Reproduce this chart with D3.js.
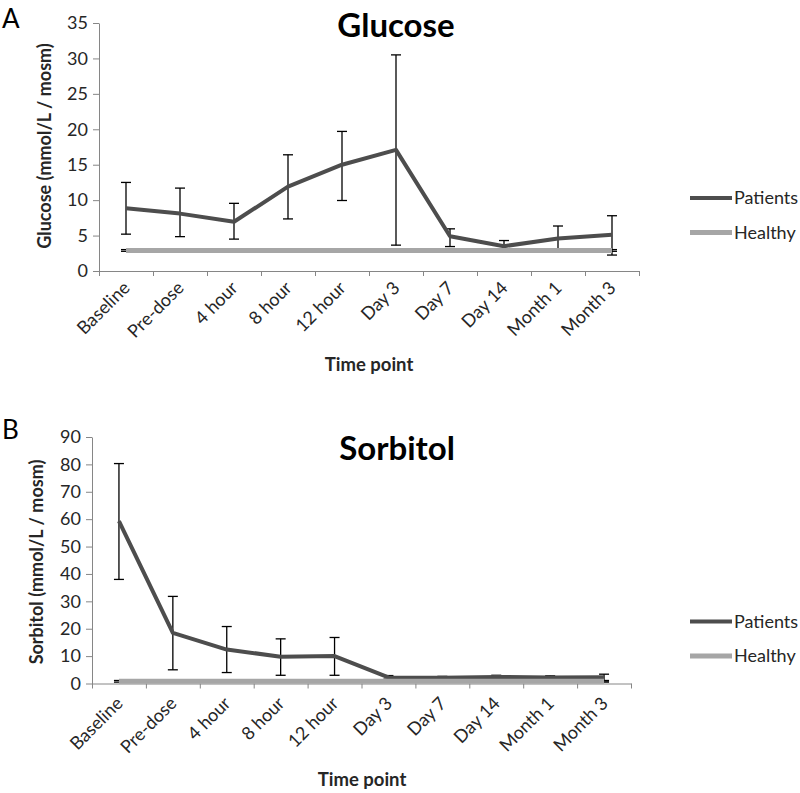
<!DOCTYPE html>
<html>
<head>
<meta charset="utf-8">
<script src="https://cdn.jsdelivr.net/npm/d3@7"></script>
<style>
  html, body { margin: 0; padding: 0; background: #fff; }
  svg { display: block; }
  text { font-family: Lato, "Open Sans", sans-serif; }
</style>
</head>
<body>
<svg id="chart" width="800" height="793"></svg>
<script>
// ---------- DATA ----------
const timePoints = ["Baseline", "Pre-dose", "4 hour", "8 hour", "12 hour", "Day 3", "Day 7", "Day 14", "Month 1", "Month 3"];
const seriesNames = ["Patients", "Healthy"];

const glucoseTicks = [0, 5, 10, 15, 20, 25, 30, 35];
const glucosePatients = [8.85, 8.1, 6.95, 11.9, 15.0, 17.1, 4.9, 3.5, 4.6, 5.1];
const glucosePatientsUpper = [12.5, 11.7, 9.55, 16.4, 19.7, 30.5, 5.95, 4.3, 6.35, 7.8];
const glucosePatientsLower = [5.2, 4.85, 4.5, 7.35, 9.95, 3.65, 3.45, 2.8, 2.9, 2.25];
const glucoseHealthy = [2.9, 2.9, 2.9, 2.9, 2.9, 2.9, 2.9, 2.9, 2.9, 2.9];
const glucoseHealthyErr = [0.12, 0.12, 0.12, 0.12, 0.12, 0.12, 0.12, 0.12, 0.12, 0.12];

const sorbitolTicks = [0, 10, 20, 30, 40, 50, 60, 70, 80, 90];
const sorbitolPatients = [59.3, 18.5, 12.4, 9.8, 10.0, 2.2, 2.1, 2.4, 2.2, 2.3];
const sorbitolPatientsUpper = [80.3, 31.8, 20.8, 16.3, 16.8, 2.9, 2.6, 3.0, 2.8, 3.4];
const sorbitolPatientsLower = [38.0, 5.0, 4.0, 3.0, 3.0, 1.6, 1.6, 1.8, 1.6, 0.9];
const sorbitolHealthy = [0.8, 0.8, 0.8, 0.8, 0.8, 0.8, 0.8, 0.8, 0.8, 0.8];
const sorbitolHealthyErr = [0.3, 0.3, 0.3, 0.3, 0.3, 0.3, 0.3, 0.3, 0.3, 0.3];

// ---------- DRAW ----------
const svg = d3.select("#chart");
const patientColor = "#4d4d4d";
const healthyColor = "#a6a6a6";
const axisColor = "#868686";
const textColor = "#262626";

function panel(cfg) {
  const g = svg.append("g");
  const x = d3.scaleBand().domain(timePoints).range([cfg.x0, cfg.x1]).padding(0);
  const xb = d3.scaleLinear().domain([0, timePoints.length]).range([cfg.x0, cfg.x1]);
  const y = d3.scaleLinear().domain([0, cfg.yMax]).range([cfg.y0, cfg.y1]);
  const cx = d => x(d) + x.bandwidth() / 2;

  // y axis
  const ya = g.append("g").attr("transform", `translate(${cfg.x0},0)`)
    .call(d3.axisLeft(y).tickValues(cfg.ticks).tickSize(6).tickSizeOuter(0).tickPadding(5));
  ya.select(".domain").attr("stroke", axisColor);
  ya.selectAll(".tick line").attr("stroke", axisColor);
  ya.selectAll(".tick text").attr("font-size", 18).attr("fill", textColor).attr("font-family", "Lato");

  // x axis line + boundary ticks
  const xa = g.append("g").attr("transform", `translate(0,${cfg.y0})`)
    .call(d3.axisBottom(xb).tickValues(d3.range(0, timePoints.length + 1)).tickSize(5).tickSizeOuter(0).tickFormat(""));
  xa.select(".domain").attr("stroke", axisColor);
  xa.selectAll(".tick line").attr("stroke", axisColor);

  // x labels (rotated)
  const xl = g.append("g").attr("transform", `translate(0,${cfg.y0})`)
    .call(d3.axisBottom(x).tickSize(0).tickPadding(0));
  xl.select(".domain").remove();
  xl.selectAll(".tick text")
    .attr("font-size", 18).attr("fill", textColor).attr("font-family", "Lato")
    .attr("text-anchor", "end").attr("dy", 0).attr("y", 0)
    .attr("transform", `translate(${cfg.lblDx},${cfg.lblDy}) rotate(-45)`);

  // Patients error bars
  const eb = g.append("g").attr("stroke", "#000").attr("stroke-width", 1.3);
  timePoints.forEach((t, i) => {
    const xc = cx(t);
    eb.append("line").attr("x1", xc).attr("x2", xc).attr("y1", y(cfg.pUp[i])).attr("y2", y(cfg.pLo[i]));
    eb.append("line").attr("x1", xc - 5).attr("x2", xc + 5).attr("y1", y(cfg.pUp[i])).attr("y2", y(cfg.pUp[i]));
    eb.append("line").attr("x1", xc - 5).attr("x2", xc + 5).attr("y1", y(cfg.pLo[i])).attr("y2", y(cfg.pLo[i]));
  });
  // Healthy error bars
  const hb = g.append("g").attr("stroke", "#000").attr("stroke-width", 1.3);
  timePoints.forEach((t, i) => {
    const xc = cx(t);
    const hi = cfg.h[i] + cfg.hErr[i], lo = cfg.h[i] - cfg.hErr[i];
    hb.append("line").attr("x1", xc - 5).attr("x2", xc + 5).attr("y1", y(hi)).attr("y2", y(hi));
    hb.append("line").attr("x1", xc - 5).attr("x2", xc + 5).attr("y1", y(lo)).attr("y2", y(lo));
  });

  const line = d3.line().x((d, i) => cx(timePoints[i])).y(d => y(d));
  g.append("path").datum(cfg.p).attr("d", line)
    .attr("fill", "none").attr("stroke", patientColor).attr("stroke-width", 4).attr("stroke-linejoin", "round");
  g.append("path").datum(cfg.h).attr("d", line)
    .attr("fill", "none").attr("stroke", healthyColor).attr("stroke-width", 5);

  // titles
  g.append("text").attr("x", cfg.titleX).attr("y", cfg.titleY).attr("text-anchor", "middle")
    .attr("font-size", 33).attr("font-weight", "bold").attr("fill", "#000").text(cfg.title);
  g.append("text").attr("x", 2).attr("y", cfg.letterY)
    .attr("font-size", 26).attr("fill", "#000").text(cfg.letter);
  g.append("text").attr("transform", `translate(${cfg.yTitleX},${cfg.yTitleY}) rotate(-90)`)
    .attr("text-anchor", "middle").attr("font-size", 18).attr("font-weight", "bold").attr("fill", textColor)
    .text(cfg.yTitle);
  g.append("text").attr("x", cfg.xTitleX).attr("y", cfg.xTitleY).attr("text-anchor", "middle")
    .attr("font-size", 18.5).attr("font-weight", "bold").attr("fill", textColor).text("Time point");

  // legend
  const colors = [patientColor, healthyColor];
  seriesNames.forEach((s, i) => {
    const ly = cfg.legY[i];
    g.append("line").attr("x1", 690).attr("x2", 732).attr("y1", ly).attr("y2", ly)
      .attr("stroke", colors[i]).attr("stroke-width", i === 0 ? 4 : 5);
    g.append("text").attr("x", 734).attr("y", ly + 6).attr("font-size", 18)
      .attr("fill", textColor).text(s);
  });
}

panel({
  x0: 99, x1: 639, y0: 271, y1: 23, yMax: 35, ticks: glucoseTicks,
  p: glucosePatients, pUp: glucosePatientsUpper, pLo: glucosePatientsLower,
  h: glucoseHealthy, hErr: glucoseHealthyErr,
  title: "Glucose", titleX: 396, titleY: 37, letter: "A", letterY: 28,
  yTitle: "Glucose (mmol/L / mosm)", yTitleX: 51, yTitleY: 146,
  xTitleX: 369, xTitleY: 371, lblDx: 5, lblDy: 18,
  legY: [198, 232.5]
});

panel({
  x0: 92, x1: 631, y0: 683.5, y1: 437, yMax: 90, ticks: sorbitolTicks,
  p: sorbitolPatients, pUp: sorbitolPatientsUpper, pLo: sorbitolPatientsLower,
  h: sorbitolHealthy, hErr: sorbitolHealthyErr,
  title: "Sorbitol", titleX: 397, titleY: 460, letter: "B", letterY: 439,
  yTitle: "Sorbitol (mmol/L / mosm)", yTitleX: 43, yTitleY: 562,
  xTitleX: 362, xTitleY: 786, lblDx: 5, lblDy: 21,
  legY: [621.5, 656]
});
</script>
</body>
</html>
